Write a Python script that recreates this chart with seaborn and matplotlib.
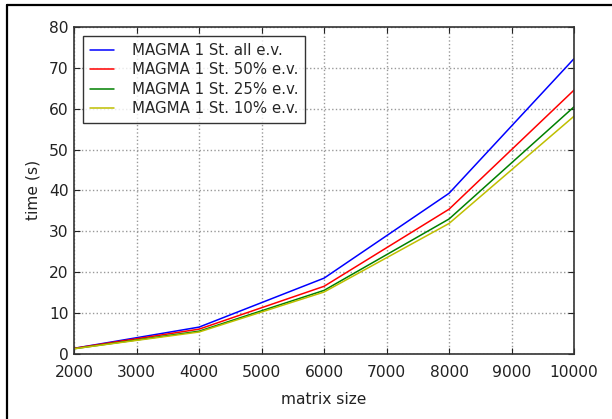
import pandas as pd
import numpy as np
import matplotlib
matplotlib.use("Agg")
import matplotlib.pyplot as plt
from matplotlib.lines import Line2D
import seaborn as sns

# data
matrix_size = [2000, 4000, 6000, 8000, 10000]
t_all = [1.3, 6.5, 18.5, 39.3, 72.3]
t_50 = [1.3, 6.0, 16.5, 35.4, 64.6]
t_25 = [1.2, 5.5, 15.5, 33.0, 60.5]
t_10 = [1.2, 5.3, 15.1, 31.9, 58.2]
labels = ["MAGMA 1 St. all e.v.", "MAGMA 1 St. 50% e.v.",
          "MAGMA 1 St. 25% e.v.", "MAGMA 1 St. 10% e.v."]
colors = ["#0000ff", "#ff0000", "#008000", "#bfbf00"]

rows = []
for lab, vals in zip(labels, [t_all, t_50, t_25, t_10]):
    for x, v in zip(matrix_size, vals):
        rows.append({"matrix size": x, "time (s)": v, "run": lab})
df = pd.DataFrame(rows)

sns.set_style("white")
plt.rcParams['font.family'] = ['DejaVu Sans']

fig = plt.figure(figsize=(6.12, 4.19), dpi=100)
ax = fig.add_axes([0.121, 0.156, 0.817, 0.779])

sns.lineplot(data=df, x="matrix size", y="time (s)", hue="run",
             palette=dict(zip(labels, colors)), linewidth=1.1, ax=ax)

ax.set_xlim(2000, 10000)
ax.set_ylim(0, 80)
ax.set_xticks(np.arange(2000, 10001, 1000))
ax.set_yticks(np.arange(0, 81, 10))
ax.grid(True, color="#999999", linestyle=":", linewidth=1)
ax.tick_params(direction="in", length=4, labelsize=11.2, colors="#222222",
               top=True, right=True, bottom=True, left=True)
ax.tick_params(axis="x", pad=8.5)
ax.tick_params(axis="y", pad=4)
for s in ax.spines.values():
    s.set_color("#333333")
    s.set_linewidth(1.2)
ax.set_xlabel("matrix size", fontsize=11.2, color="#222222", labelpad=8)
ax.set_ylabel("time (s)", fontsize=11.2, color="#222222", labelpad=6)

leg = ax.legend(loc="upper left", borderaxespad=0.6, fontsize=10.8,
                handlelength=1.6, handletextpad=1.2, fancybox=False,
                frameon=True, labelspacing=0.3, borderpad=0.45)
leg.get_frame().set_edgecolor("black")
leg.get_frame().set_linewidth(1)

# figure frame (left and top only visible in the reference)
fig.add_artist(Line2D([0.0114, 0.0114], [0.0, 0.988], color="black", lw=1.6,
                      transform=fig.transFigure))
fig.add_artist(Line2D([0.0114, 1.0], [0.988, 0.988], color="black", lw=1.6,
                      transform=fig.transFigure))

fig.savefig("out.png", dpi=100)
